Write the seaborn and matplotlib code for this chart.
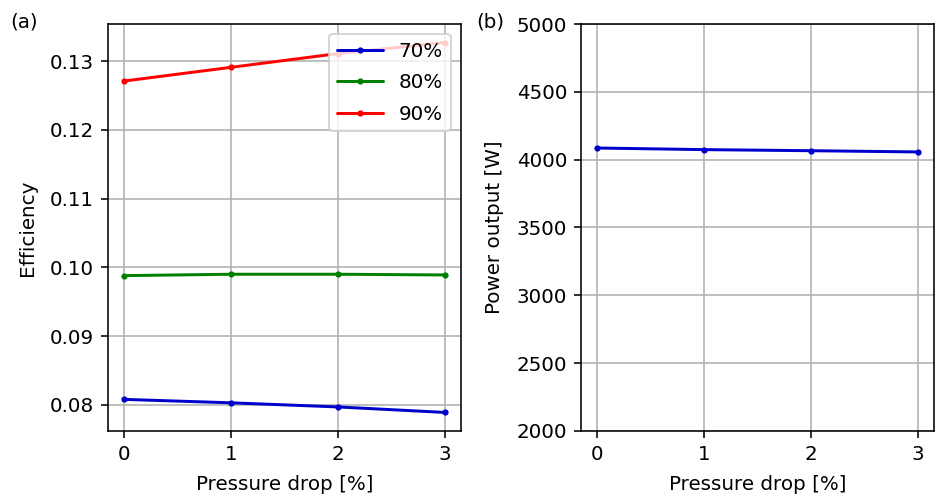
import matplotlib
matplotlib.use("Agg")
import matplotlib.pyplot as plt
import seaborn as sns
import pandas as pd

pressure_drop = [0, 1, 2, 3]
eff_70 = [0.0808, 0.0803, 0.0797, 0.0789]
eff_80 = [0.0988, 0.0990, 0.0990, 0.0989]
eff_90 = [0.1271, 0.1291, 0.1311, 0.1327]
power_70 = [4086, 4074, 4066, 4057]
series_labels = ["70%", "80%", "90%"]
colors = ["mediumblue", "green", "red"]

S = 1.43  # scale factor of the original rendering
FS = 10 * S

sns.set_style("ticks")
plt.rcParams['font.family'] = ['DejaVu Sans']
plt.rcParams.update({
    'font.size': FS,
    'text.color': 'black',
    'axes.labelcolor': 'black',
    'xtick.color': 'black',
    'ytick.color': 'black',
})

rows = []
for lab, vals in zip(series_labels, [eff_70, eff_80, eff_90]):
    for x, v in zip(pressure_drop, vals):
        rows.append({"Pressure drop": x, "Efficiency": v, "Series": lab})
df_eff = pd.DataFrame(rows)
df_pow = pd.DataFrame({"Pressure drop": pressure_drop, "Power": power_70})

fig = plt.figure(figsize=(9.36, 4.97), dpi=100)
ax1 = fig.add_axes([108/936, 1-431/497, (461-108)/936, (431-24)/497])
ax2 = fig.add_axes([581/936, 1-431/497, (934-581)/936, (431-24)/497])

sns.lineplot(data=df_eff, x="Pressure drop", y="Efficiency", hue="Series",
             palette=dict(zip(series_labels, colors)), marker="o", markersize=4.5,
             markeredgewidth=0, linewidth=1.5 * S, ax=ax1)
sns.lineplot(data=df_pow, x="Pressure drop", y="Power", color="mediumblue",
             marker="o", markersize=4.5, markeredgewidth=0, linewidth=1.5 * S, ax=ax2)

for ax in (ax1, ax2):
    ax.grid(True, color="#b0b0b0", linewidth=0.8 * S)
    ax.set_xticks(pressure_drop)
    ax.set_xlabel("Pressure drop [%]", fontsize=FS, labelpad=8)
    for s in ax.spines.values():
        s.set_color("black")
        s.set_linewidth(0.8 * S)
    ax.tick_params(labelsize=FS, length=3.5 * S, width=0.8 * S, pad=3.5 * S,
                   color="black", labelcolor="black")

ax1.set_ylabel("Efficiency", fontsize=FS, labelpad=9)
ax1.set_xlim(-0.15, 3.15)
ax1.set_ylim(0.0762, 0.1354)
ax1.set_yticks([0.08, 0.09, 0.10, 0.11, 0.12, 0.13])
ax1.set_yticklabels(["0.08", "0.09", "0.10", "0.11", "0.12", "0.13"])
leg = ax1.legend(loc="upper right", fontsize=FS, framealpha=0.8, title=None,
                 handlelength=2.3, labelspacing=0.62)
leg.get_frame().set_linewidth(1.0 * S)
for t in leg.get_texts():
    t.set_color("black")

ax2.set_ylabel("Power output [W]", fontsize=FS, labelpad=9)
ax2.set_xlim(-0.15, 3.15)
ax2.set_ylim(2000, 5000)
ax2.set_yticks([2000, 2500, 3000, 3500, 4000, 4500, 5000])

fig.text(10/936, 1-22/497, "(a)", fontsize=FS, va="center", ha="left")
fig.text(476/936, 1-22/497, "(b)", fontsize=FS, va="center", ha="left")

fig.savefig("out.png", dpi=100)
